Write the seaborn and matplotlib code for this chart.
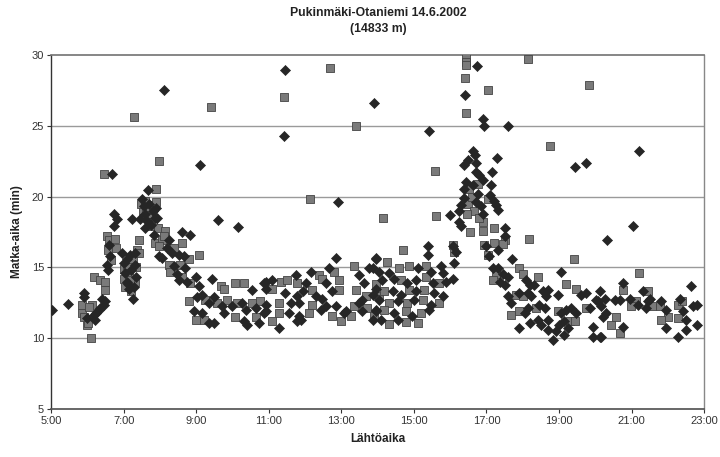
import matplotlib
matplotlib.use("Agg")
import matplotlib.pyplot as plt
import seaborn as sns
import pandas as pd

# ---------------- data (departure time in decimal hours, travel time in minutes) -------------
diamond_time = [
    5.03, 5.47, 6.69, 8.12, 9.09, 11.46, 11.41, 12.9, 9.61, 10.14, 13.9, 15.41, 16.74, 16.41, 16.9,
    16.93, 17.6, 19.45, 19.75, 21.2, 21.05, 20.32, 16.0, 17.29,
    5.92, 5.92, 5.99, 6.17, 6.31, 6.35, 6.22, 6.49, 6.45, 6.54, 6.58, 6.72, 6.81, 6.72, 6.6, 6.62, 6.25, 6.4,
    6.95, 7.18, 7.32, 7.0, 7.05, 7.1, 7.15, 7.2, 7.26, 7.3, 7.35, 7.08, 7.23, 7.12, 7.28,
    7.67, 7.5, 7.55, 7.6, 7.65, 7.7, 7.75, 7.8, 7.85, 7.9, 7.92, 7.83, 7.96, 7.46, 7.58,
    8.61, 8.84, 8.24, 8.33, 8.52, 8.66, 8.06, 8.38, 8.7, 8.47, 8.75, 8.98, 9.07, 9.44, 8.52, 8.2,
    10.54, 10.86, 10.91, 9.02, 9.16, 9.35, 9.48, 9.71, 9.99, 10.27, 10.36, 10.64, 10.91, 8.93, 9.16,
    9.35, 9.48, 9.76, 10.31, 10.41, 10.73, 10.86,
    12.85, 12.66, 12.15, 13.77, 13.86, 13.95, 10.91, 11.1, 11.74, 12.02, 12.57, 13.49, 13.63, 11.46,
    11.79, 11.93, 12.29, 12.48, 12.75, 13.58, 13.86, 11.6, 11.83, 12.57, 12.85, 13.12, 13.49, 13.95,
    10.91, 11.56, 11.83, 12.43, 13.08, 13.58, 11.28, 11.79, 11.88, 13.86,
    15.38, 15.38, 16.07, 16.16, 16.11, 13.95, 14.04, 14.32, 15.1, 15.47, 15.75, 15.79, 16.07, 14.13,
    14.46, 14.82, 15.05, 15.52, 15.88, 13.95, 14.41, 14.64, 15.05, 15.56, 15.79, 14.04, 14.55, 15.01,
    15.47, 13.95, 14.46, 14.96, 15.42, 14.09, 14.55,
    16.62, 16.68, 16.48, 16.71, 16.39, 16.71, 16.8, 16.44, 16.62, 16.9, 16.39, 16.76, 16.39, 16.3,
    16.25, 16.25, 16.3, 16.71, 16.9, 17.15, 17.13, 16.85,
    17.1, 17.2, 17.27, 17.31, 17.5, 17.5, 17.31, 16.99, 17.08, 17.71, 17.17, 17.31, 17.45, 17.59,
    17.36, 17.5,
    18.09, 18.19, 18.32, 17.59, 17.68, 17.91, 18.14, 18.23, 18.55, 18.69, 18.65, 18.97, 19.61, 19.75,
    20.07, 19.06, 18.05, 18.14, 18.46, 18.6, 19.06, 19.2, 19.34, 19.48, 19.84, 18.19, 18.42, 18.51,
    18.69, 18.69, 18.92, 19.01, 19.15, 19.24, 17.91, 18.83, 19.15, 19.94, 19.94, 20.12,
    20.76, 20.12, 21.32, 22.65, 20.03, 20.26, 20.53, 20.67, 20.95, 21.5, 21.82, 22.33, 22.79, 22.7,
    20.17, 20.3, 21.18, 21.41, 21.96, 22.42, 22.51, 20.21, 20.76, 21.96, 22.51, 22.79, 20.17, 22.28,
    21.45,
]
diamond_min = [
    12.0, 12.4, 21.6, 27.5, 22.2, 28.9, 24.3, 19.6, 18.35, 17.85, 26.6, 24.6, 29.2, 27.2, 25.5,
    25.0, 25.0, 22.1, 22.4, 23.2, 17.9, 16.9, 18.7, 22.7,
    13.2, 12.9, 11.4, 11.65, 12.0, 12.1, 11.3, 12.6, 12.35, 15.2, 14.8, 18.8, 18.4, 17.9, 16.6, 15.8, 11.8, 12.8,
    16.0, 15.9, 16.0, 15.3, 14.6, 14.0, 13.5, 14.8, 12.75, 15.2, 14.3, 15.6, 18.4, 13.8, 13.6,
    20.47, 19.8, 19.3, 18.8, 18.3, 19.5, 18.0, 19.0, 18.5, 19.2, 18.5, 17.3, 15.8, 18.4, 17.8,
    17.5, 17.25, 16.9, 16.0, 15.9, 15.8, 15.65, 15.06, 14.95, 14.5, 14.0, 14.35, 13.65, 14.15, 14.1, 16.35,
    13.4, 13.9, 13.5, 12.9, 13.05, 12.5, 12.9, 12.25, 12.25, 12.5, 12.0, 12.1, 12.35, 11.9, 11.75,
    11.05, 11.05, 11.75, 11.2, 10.95, 11.05, 11.75,
    15.65, 14.95, 14.7, 14.95, 14.95, 15.6, 14.0, 14.1, 14.47, 13.9, 13.9, 14.47, 13.9, 13.2,
    12.95, 13.3, 12.95, 12.8, 13.3, 12.7, 13.05, 12.5, 12.5, 12.25, 12.25, 11.9, 12.5, 12.0,
    11.9, 11.75, 11.6, 12.0, 11.75, 11.9, 10.7, 11.2, 11.3, 11.3,
    16.5, 15.9, 16.5, 16.1, 15.3, 15.65, 14.7, 14.6, 14.95, 14.7, 15.06, 14.6, 14.2, 14.1,
    14.2, 13.9, 14.1, 13.9, 14.0, 13.5, 13.3, 13.05, 13.3, 13.2, 12.95, 12.7, 12.6, 12.7,
    12.35, 11.9, 11.75, 11.6, 12.0, 11.3, 11.3,
    23.2, 22.9, 22.6, 22.4, 22.2, 21.7, 21.5, 21.0, 20.8, 21.2, 20.5, 20.2, 19.9, 19.4,
    19.0, 18.2, 17.9, 19.6, 18.8, 21.7, 20.8, 19.3,
    20.1, 19.7, 19.4, 19.06, 17.8, 17.2, 16.2, 16.5, 15.8, 15.6, 14.95, 14.95, 14.5, 14.35,
    14.0, 13.75,
    14.1, 13.75, 13.75, 12.95, 12.5, 13.2, 13.2, 12.95, 13.3, 13.4, 12.95, 13.05, 13.05, 13.2,
    12.6, 14.7, 11.75, 12.1, 12.35, 12.1, 11.75, 12.0, 12.1, 11.75, 12.1, 11.1, 11.3, 10.95,
    11.3, 10.6, 10.5, 10.95, 11.2, 10.7, 10.7, 9.9, 10.25, 10.8, 10.05, 10.05,
    13.9, 13.3, 13.3, 13.65, 12.7, 12.75, 12.7, 12.7, 12.8, 12.8, 12.6, 12.8, 12.35, 12.25,
    12.25, 11.75, 12.35, 12.1, 12.0, 11.9, 11.3, 11.5, 10.8, 10.7, 10.6, 10.95, 10.05, 10.05,
    12.6,
]

square_time = [
    6.46, 7.29, 9.42, 11.41, 12.68, 13.4, 7.96, 12.13, 16.44, 16.44, 16.44, 18.15, 19.83, 16.41,
    17.04, 16.44, 18.76, 15.58, 14.14, 15.61, 21.21, 14.69, 18.17, 19.4, 19.2,
    5.85, 5.85, 6.12, 5.99, 6.03, 6.1, 6.17, 6.35, 6.49, 6.49, 6.54, 6.6, 6.56, 6.65, 6.75, 6.8, 5.9, 6.05,
    7.0, 7.05, 7.1, 7.15, 7.2, 7.25, 7.3, 7.35, 7.02, 7.18, 7.38, 7.41, 7.41,
    7.89, 7.48, 7.52, 7.6, 7.68, 7.72, 7.78, 7.82, 7.88, 7.94, 7.87, 7.62,
    8.15, 8.06, 7.97, 8.61, 8.79, 9.07, 8.24, 8.56, 8.29, 8.61, 8.84, 8.1, 8.4,
    9.67, 9.76, 10.08, 10.31, 8.79, 9.25, 9.58, 9.85, 10.13, 10.54, 10.77, 8.98, 9.21, 10.08, 10.64,
    13.35, 11.33, 11.51, 12.39, 12.48, 12.8, 12.94, 13.95, 11.1, 11.79, 12.2, 12.94, 13.4, 13.68,
    14.04, 11.28, 12.2, 13.35, 13.72, 11.28, 12.11, 12.75, 13.26, 13.9, 11.1, 12.98,
    14.27, 14.6, 14.87, 15.33, 14.64, 15.33, 15.7, 14.18, 14.87, 15.29, 14.32, 14.82, 15.24, 15.7,
    14.18, 14.78, 15.19, 14.32, 14.78, 15.1, 16.08, 16.1,
    16.76, 16.53, 16.9, 16.9, 16.94, 17.03, 16.5, 16.6, 16.65, 16.8, 16.45, 16.55,
    17.22, 17.5, 17.22, 17.45, 17.27, 17.17, 17.91, 18.0, 18.42, 17.05,
    17.82, 18.0, 19.48, 17.68, 17.91, 18.37, 18.97, 19.75, 19.29, 19.43,
    20.75, 21.45, 21.13, 22.28, 20.99, 21.55, 21.78, 22.01, 21.82, 22.28, 20.58, 20.44, 20.67, 22.38,
]
square_min = [
    21.6, 25.6, 26.3, 27.0, 29.1, 25.0, 22.5, 19.8, 29.8, 29.5, 29.25, 29.7, 27.9, 28.4,
    27.5, 25.9, 23.6, 21.8, 18.5, 18.6, 14.6, 16.2, 17.0, 15.6, 13.8,
    12.35, 11.8, 12.35, 10.9, 11.05, 10.0, 14.35, 14.1, 14.0, 13.4, 17.2, 16.9, 16.2, 15.5, 17.0, 16.4, 11.5, 12.2,
    14.9, 13.6, 15.2, 14.4, 13.3, 15.6, 14.0, 15.0, 14.2, 14.1, 16.2, 16.9, 16.0,
    20.5, 19.5, 18.9, 19.7, 18.6, 17.9, 19.4, 18.2, 19.6, 17.8, 16.7, 19.1,
    17.6, 16.9, 16.5, 16.7, 15.6, 15.9, 15.2, 15.2, 14.7, 14.35, 13.9, 17.2, 16.4,
    13.65, 13.45, 13.9, 13.9, 12.6, 12.7, 12.5, 12.7, 12.5, 12.5, 12.6, 11.3, 11.3, 11.5, 11.5,
    15.06, 14.0, 14.1, 14.47, 14.2, 14.7, 14.1, 13.8, 13.5, 13.9, 13.4, 13.4, 13.4, 12.95,
    12.95, 12.5, 12.35, 12.25, 12.1, 11.75, 11.75, 11.6, 11.6, 11.6, 11.2, 11.2,
    15.4, 14.95, 15.06, 15.06, 14.1, 14.35, 13.9, 13.3, 13.4, 13.4, 12.5, 12.5, 12.7, 12.5,
    12.0, 11.9, 11.75, 11.0, 11.15, 11.05, 16.6, 16.1,
    20.9, 20.5, 18.2, 17.6, 16.6, 15.9, 19.5, 20.0, 19.0, 18.5, 18.8, 17.5,
    17.8, 16.9, 16.7, 16.65, 14.5, 14.1, 14.95, 14.5, 14.35, 19.8,
    13.05, 12.95, 13.5, 11.65, 11.9, 12.1, 11.9, 12.1, 11.2, 11.2,
    13.4, 13.3, 12.6, 12.35, 12.25, 12.25, 12.25, 11.5, 11.3, 11.4, 11.5, 10.95, 10.35, 12.6,
]

x_ticks = [5, 7, 9, 11, 13, 15, 17, 19, 21, 23]
x_tick_labels = ["5:00", "7:00", "9:00", "11:00", "13:00", "15:00", "17:00", "19:00", "21:00", "23:00"]
y_ticks = [5, 10, 15, 20, 25, 30]

title_text = "Pukinmäki-Otaniemi 14.6.2002\n(14833 m)"
x_label = "Lähtöaika"
y_label = "Matka-aika (min)"

# ---------------- plotting -------------
sns.set_theme(style="white")
plt.rcParams["font.family"] = ["Liberation Sans", "DejaVu Sans"]

df_d = pd.DataFrame({"t": diamond_time, "m": diamond_min})
df_s = pd.DataFrame({"t": square_time, "m": square_min})

fig = plt.figure(figsize=(7.2, 4.57), dpi=100)
ax = fig.add_axes([0.071, 0.105, 0.907, 0.775])

for yv in [10, 15, 20, 25]:
    ax.axhline(yv, color="#9a9a9a", lw=1.0, zorder=0)

sns.scatterplot(data=df_s, x="t", y="m", marker="s", s=26, color="#7a7a7a",
                edgecolor="#444444", linewidth=0.6, ax=ax, zorder=3)
sns.scatterplot(data=df_d, x="t", y="m", marker="D", s=26, color="#262626",
                edgecolor="#262626", linewidth=0.5, ax=ax, zorder=4)

ax.set_xlim(5, 23)
ax.set_ylim(5, 30)
ax.set_xticks(x_ticks)
ax.set_xticklabels(x_tick_labels)
ax.set_yticks(y_ticks)
ax.tick_params(axis="both", labelsize=8, colors="#333333", length=3, width=0.8,
               direction="out", bottom=True, left=True, pad=2)

ax.spines["left"].set_color("#333333")
ax.spines["left"].set_linewidth(1.0)
ax.spines["bottom"].set_color("#555555")
ax.spines["bottom"].set_linestyle((0, (1, 1)))
ax.spines["top"].set_color("#777777")
ax.spines["top"].set_linestyle((0, (1, 1)))
ax.spines["right"].set_color("#888888")
ax.spines["right"].set_linewidth(1.0)

ax.set_xlabel(x_label, fontsize=8.5, fontweight="bold", color="#222222", labelpad=5)
ax.set_ylabel(y_label, fontsize=8.5, fontweight="bold", color="#222222", labelpad=6)
fig.text(0.526, 0.955, title_text, ha="center", va="center", fontsize=8.8,
         fontweight="bold", color="#222222", linespacing=1.45)

fig.savefig("out.png", dpi=100)
